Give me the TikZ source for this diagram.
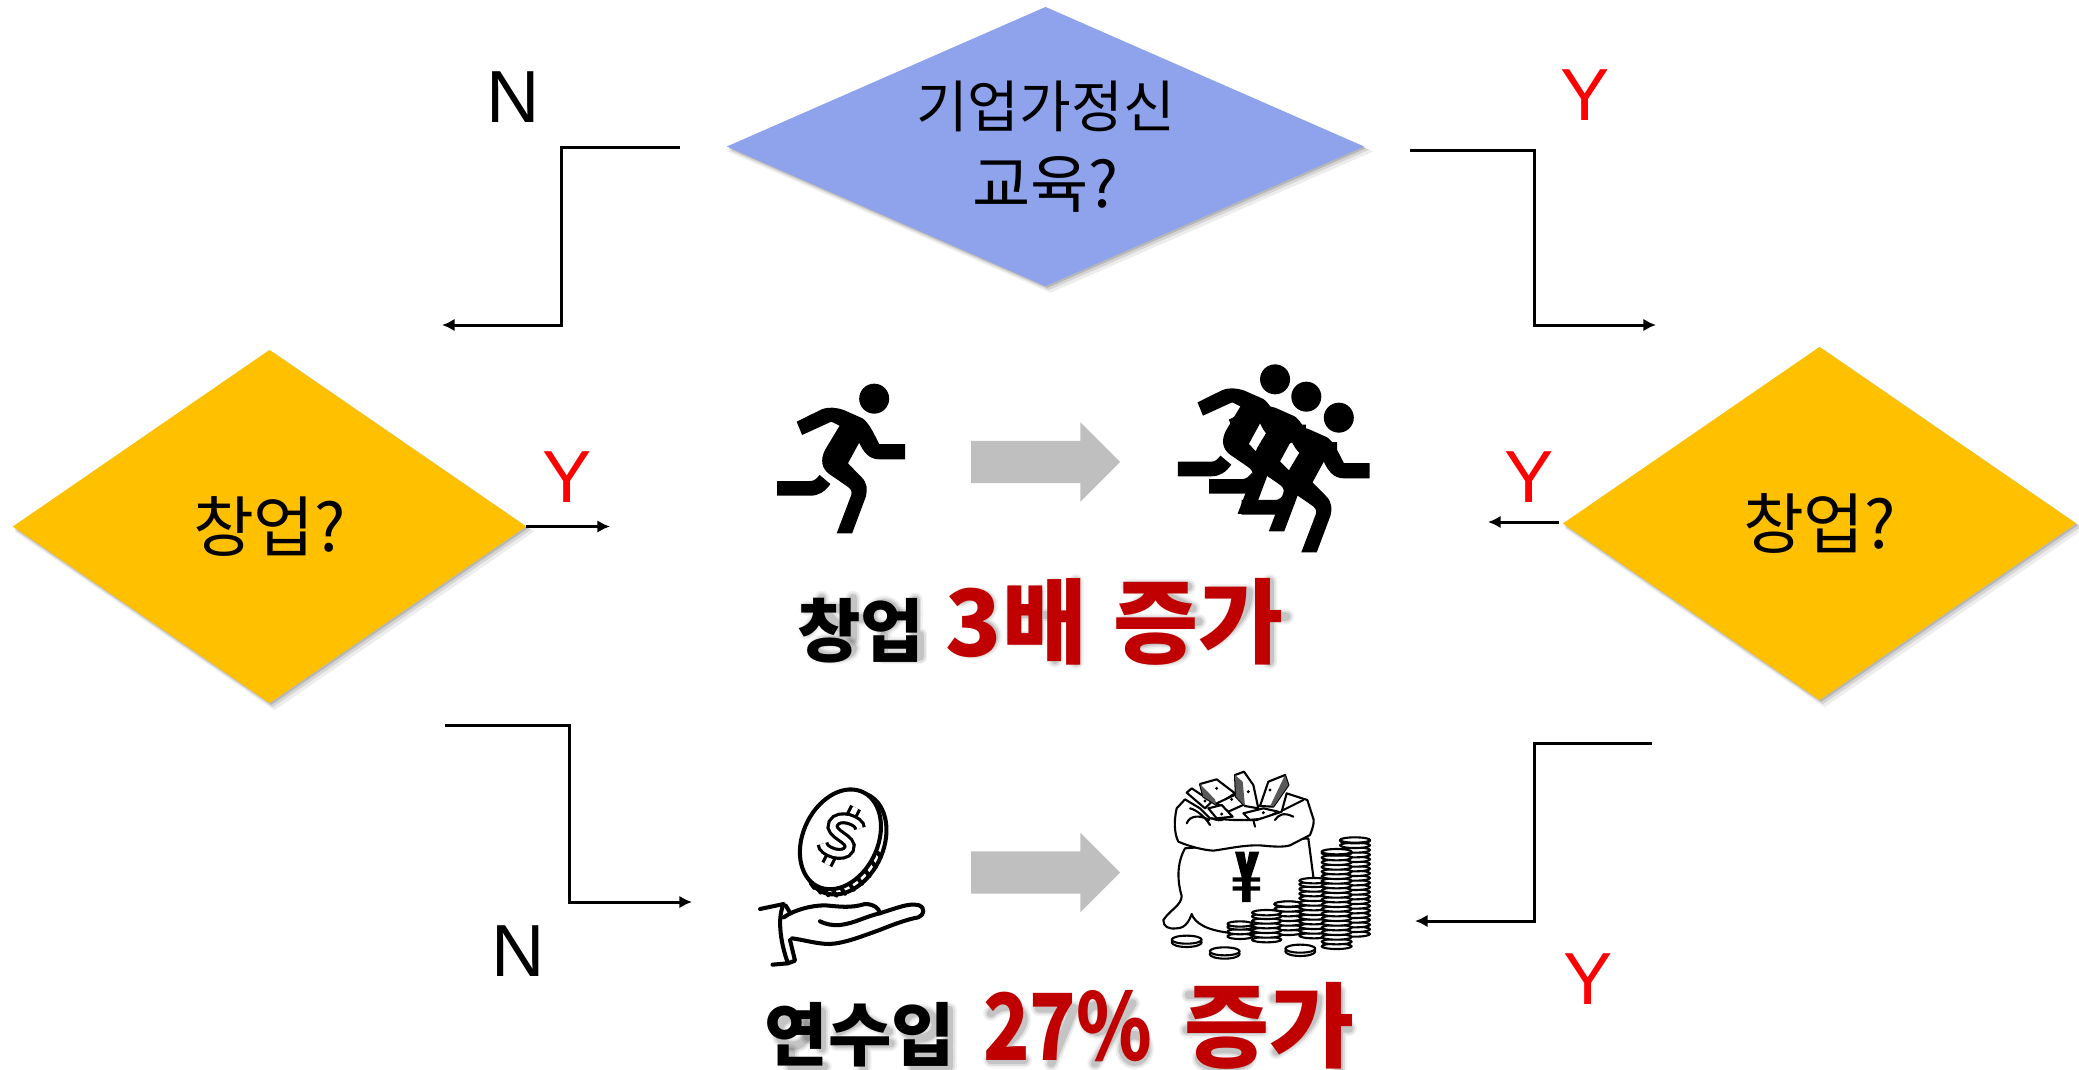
\documentclass[tikz,border=0pt]{standalone}
\usepackage{fontspec}
\usepackage{graphicx}
\setmainfont{Noto Sans CJK KR}
\newfontfamily\latf{Liberation Sans}
\usetikzlibrary{shapes.geometric,shapes.arrows,arrows.meta,shadows}
\definecolor{periw}{RGB}{143,163,236}
\definecolor{amber}{RGB}{255,192,0}
\definecolor{arrowgrey}{RGB}{191,191,191}
\definecolor{deepred}{RGB}{192,0,0}
\newcommand{\pxfont}[1]{\fontsize{#1}{#1}\selectfont}
% hand-drawn soft shadow strokes behind the two captions
\newcommand{\shadowstrokesA}{
  \draw (160,700) -- (160,715) (125,730) -- (205,730) (165,735) -- (125,800) (165,735) -- (205,790)
    (235,700) -- (235,820) (235,760) -- (260,760);
  \draw (190,850) ellipse [x radius=45,y radius=25];
  \draw (310,750) ellipse [x radius=30,y radius=35];
  \draw (385,705) -- (385,800) (345,750) -- (385,750)
    (310,810) -- (310,875) -- (395,875) -- (395,810) (310,840) -- (395,840);
  \draw (495,705) .. controls (530,680) and (570,690) .. (565,725) .. controls (560,755) and (540,765) .. (525,770)
    .. controls (560,775) and (580,795) .. (572,825) .. controls (565,860) and (520,870) .. (490,850);
  \draw (620,680) -- (620,820) -- (680,820) -- (680,680) (620,745) -- (680,745)
    (720,660) -- (720,885) (770,650) -- (770,890) (680,750) -- (720,750);
  \draw (895,665) -- (1040,665) (965,680) -- (900,735) (965,680) -- (1050,730) (885,770) -- (1065,770);
  \draw (970,855) ellipse [x radius=60,y radius=28];
  \draw (1100,680) -- (1185,680) .. controls (1185,740) and (1150,790) .. (1100,830)
    (1235,650) -- (1235,890) (1235,755) -- (1275,755);
}
\newcommand{\shadowstrokesB}{
  \draw (115,800) ellipse [x radius=35,y radius=42];
  \draw (185,740) -- (185,850) (150,775) -- (185,775) (150,815) -- (185,815) (110,860) -- (110,905) -- (190,905);
  \draw (285,740) -- (285,760) -- (225,800) (285,760) -- (345,800) (220,835) -- (350,835) (285,835) -- (285,912);
  \draw (420,780) ellipse [x radius=38,y radius=40];
  \draw (490,735) -- (490,840) (405,850) -- (405,905) -- (490,905) -- (490,850) (405,878) -- (490,878);
  \draw (590,745) .. controls (620,710) and (670,720) .. (668,765) .. controls (665,810) and (610,850) .. (590,885) -- (670,885);
  \draw (705,730) -- (790,730) -- (735,895);
  \draw (845,760) ellipse [x radius=28,y radius=40];
  \draw (935,850) ellipse [x radius=28,y radius=40];
  \draw (930,715) -- (840,895);
  \draw (1065,690) -- (1220,690) (1145,705) -- (1075,755) (1145,705) -- (1225,755) (1060,795) -- (1240,795);
  \draw (1150,880) ellipse [x radius=60,y radius=28];
  \draw (1270,700) -- (1375,700) .. controls (1375,770) and (1335,820) .. (1275,860)
    (1425,680) -- (1425,918) (1425,790) -- (1450,790);
}
\tikzset{
  softshadow/.style={
    general shadow={fill=black,opacity=.07,shadow xshift=1.4pt,shadow yshift=-1.4pt,shadow scale=1.012},
    general shadow={fill=black,opacity=.10,shadow xshift=.9pt,shadow yshift=-.9pt,shadow scale=1.006},
    general shadow={fill=black,opacity=.14,shadow xshift=.5pt,shadow yshift=-.5pt}},
  decision/.style={shape=diamond,inner sep=0pt,outer sep=0pt,softshadow,align=center},
  conn/.style={line width=.85pt,-{Latex[length=3.6pt,width=3.6pt]}},
  yes/.style={font=\latf\pxfont{21},text=red},
  no/.style={font=\latf\pxfont{21},text=black},
  bigarrow/.style={shape=single arrow,fill=arrowgrey,draw=none,inner sep=0pt,outer sep=0pt,anchor=tail,
    minimum height=1.49cm,single arrow head extend=.185cm,single arrow head indent=0pt},
  ink/.style={line width=1.15pt,line join=round,line cap=round,draw=black},
  thin ink/.style={line width=.6pt,line join=round,line cap=round,draw=black},
  glow outer/.style={line width=4.4pt,draw=black,opacity=.05,line cap=round,line join=round},
  glow mid/.style={line width=3.4pt,draw=black,opacity=.08,line cap=round,line join=round},
  glow inner/.style={line width=2.4pt,draw=black,opacity=.12,line cap=round,line join=round},
  runner/.pic={
    \fill (298,116) ellipse [x radius=36,y radius=45];
    \fill (112,185) -- (172,148) .. controls (190,140) and (205,142) .. (225,150) -- (270,175)
      .. controls (285,188) and (295,215) .. (310,252) -- (372,252) -- (372,298) -- (310,298)
      .. controls (285,298) and (272,275) .. (262,248) -- (235,310) -- (268,352)
      .. controls (282,370) and (282,390) .. (278,410) -- (245,520) -- (208,520) -- (243,405)
      .. controls (246,392) and (240,385) .. (232,378) -- (190,342)
      .. controls (172,325) and (168,300) .. (180,270) -- (215,197) -- (195,185) -- (125,225) -- cycle;
    \fill (65,363) -- (145,363) .. controls (155,363) and (160,355) .. (167,345) -- (193,372)
      .. controls (180,395) and (165,407) .. (145,407) -- (65,407) -- cycle;
  },
  billnote/.style={thin ink,fill=white},
}
\begin{document}
\begin{tikzpicture}[x=0.01cm,y=-0.01cm]
\useasboundingbox (0,0) rectangle (2079,1069);

% decisions
\node[decision,fill=periw,minimum width=6.37cm,minimum height=2.79cm,shape aspect=2.28] (edu) at (1045.5,146.5)
  {\pxfont{16}기업가정신\\[6pt]\pxfont{18}교육?};
\node[decision,fill=amber,minimum width=5.13cm,minimum height=3.53cm,shape aspect=1.45] (startL) at (269.5,526.5) {\raisebox{-3pt}{\pxfont{18.8}창업?}};
\node[decision,fill=amber,minimum width=5.13cm,minimum height=3.53cm,shape aspect=1.45] (startR) at (1819.5,523.5) {\raisebox{-3pt}{\pxfont{18.8}창업?}};

% connector ends
\coordinate (a0) at (680,147); \coordinate (a1) at (442,325);
\coordinate (b0) at (1410,150); \coordinate (b1) at (1656,325);
\coordinate (c1) at (610,526.5);
\coordinate (d0) at (1559,522); \coordinate (d1) at (1488,522);
\coordinate (e0) at (445,725); \coordinate (e1) at (692,902);
\coordinate (f0) at (1652,743); \coordinate (f1) at (1415,921);

\draw[conn] (a0) -- (561,147) -- (561,325) -- (a1);
\draw[conn] (b0) -- (1534,150) -- (1534,325) -- (b1);
\draw[conn] (startL.east) -- (c1);
\draw[conn] (d0) -- (d1);
\draw[conn] (e0) -- (569,725) -- (569,902) -- (e1);
\draw[conn] (f0) -- (1534,743) -- (1534,921) -- (f1);

% branch labels
\node[no]  (n1) at (513,97) {N};
\node[yes] (y1) at (1585,95) {Y};
\node[yes] (y2) at (567,477) {Y};
\node[yes] (y3) at (1529,477) {Y};
\node[no]  (n2) at (518,951) {N};
\node[yes] (y4) at (1588,979) {Y};

% grey arrows
\node[bigarrow] (g1) at (971,462) {\rule{0pt}{.41cm}};
\node[bigarrow] (g2) at (971,872.5) {\rule{0pt}{.41cm}};

% runners
\begin{scope}[shift={(750,360)},xscale=.4167,yscale=.3333]
  \pic[transform shape] at (0,0) {runner};
  \pic[transform shape] at (962,-58) {runner};
  \pic[transform shape] at (1037,-6) {runner};
  \pic[transform shape] at (1115,57) {runner};
\end{scope}

% coin and hand
\begin{scope}[shift={(740,760)},xscale=.4167,yscale=.3333]
  \draw[ink,fill=white] (252,250) ellipse [x radius=94,y radius=157,rotate=-15];
  \begin{scope}[shift={(243,240)},rotate=-15]
    \foreach \t in {5,17,...,113} {
      \draw[ink] ({94*cos(\t)},{157*sin(\t)}) -- +(11,11);
    }
  \end{scope}
  \draw[ink,fill=white] (241,238) ellipse [x radius=92,y radius=153,rotate=-15];
  \begin{scope}[shift={(243,228)},rotate=-22]
    \draw[line width=.9pt,double=white,double distance=1.6pt,line cap=butt]
      (0,-92) -- (0,-55) (0,55) -- (0,92);
    \draw[line width=.9pt,double=white,double distance=1.6pt,line cap=butt]
      (33,-38) .. controls (25,-60) and (-32,-62) .. (-32,-28)
      .. controls (-32,8) and (32,-5) .. (32,30)
      .. controls (32,62) and (-25,60) .. (-33,38);
  \end{scope}
  \draw[ink] (48,447) -- (105,432) .. controls (90,470) and (95,540) .. (115,610) -- (78,614);
  \draw[ink] (110,437) -- (120,458) (120,540) -- (132,602) -- (115,610);
  \draw[ink] (105,472) .. controls (130,450) and (170,436) .. (205,436)
     .. controls (240,440) and (265,445) .. (300,432)
     .. controls (320,432) and (335,445) .. (335,460)
     -- (370,446) .. controls (395,436) and (415,430) .. (430,436)
     .. controls (445,445) and (442,465) .. (428,472)
     .. controls (400,478) and (365,495) .. (335,510)
     .. controls (290,530) and (250,550) .. (215,552)
     .. controls (185,552) and (155,540) .. (125,535);
  \draw[ink] (335,460) .. controls (300,470) and (275,490) .. (240,495)
     .. controls (220,497) and (205,492) .. (192,484);
\end{scope}

% money bag
\begin{scope}[shift={(1150,770)},scale=.3333]
  \draw[billnote] (110,68) -- (125,55) -- (185,95) -- (165,115) -- cycle;
  \fill (165,93) circle (5);
  \draw[billnote] (150,42) -- (200,28) -- (255,70) -- (200,105) -- (160,80) -- cycle;
  \fill[black!65] (150,42) -- (160,80) -- (200,105) -- (195,88) -- cycle;
  \fill (200,55) circle (5);
  \draw[billnote] (355,35) -- (405,15) -- (415,45) -- (370,110) -- (330,108) -- cycle;
  \fill[black!65] (405,15) -- (415,45) -- (370,110) -- (362,105) -- cycle;
  \fill (360,60) circle (5);
  \draw[billnote] (200,100) -- (260,72) -- (290,100) -- (235,125) -- cycle;
  \fill (245,88) circle (5);
  \draw[billnote] (255,15) -- (282,5) -- (310,45) -- (325,115) -- (285,108) -- (258,80) -- cycle;
  \fill[black!65] (255,15) -- (258,80) -- (285,108) -- (278,35) -- cycle;
  \fill (295,65) circle (5);
  \draw[billnote] (175,115) -- (215,105) -- (248,140) -- (200,145) -- cycle;
  \fill (215,132) circle (5);
  \draw[billnote] (280,130) -- (340,115) -- (385,125) -- (345,145) -- (300,150) -- cycle;
  \fill (340,128) circle (5);
  % sack
  \draw[thin ink,fill=white] (105,235) .. controls (85,270) and (78,320) .. (95,378)
     .. controls (95,405) and (60,420) .. (40,450)
     .. controls (40,470) and (55,478) .. (80,475)
     .. controls (110,475) and (120,445) .. (125,432)
     .. controls (135,460) and (170,480) .. (235,488)
     -- (490,488) -- (490,320) -- (475,205) -- cycle;
  \draw[thin ink,fill=white] (105,88) -- (80,115) .. controls (72,150) and (72,190) .. (85,215)
     .. controls (120,230) and (160,240) .. (190,242)
     .. controls (240,235) and (280,225) .. (330,226)
     .. controls (370,230) and (400,232) .. (420,226)
     -- (480,195) .. controls (490,170) and (495,150) .. (488,140) -- (472,90) -- (410,70)
     -- (395,125) -- (320,150) -- (250,150) -- (180,145) -- (150,115) -- cycle;
  \draw[thin ink] (120,115) .. controls (140,120) and (165,140) .. (180,165)
     (110,160) .. controls (120,135) and (150,135) .. (178,150)
     (185,145) .. controls (200,150) and (210,155) .. (225,145)
     (375,150) .. controls (385,135) and (400,125) .. (430,140)
     (400,120) .. controls (420,110) and (440,100) .. (460,90)
     (310,150) -- (315,170);
  % yen
  \fill (255,245) -- (283,245) -- (290,285) -- (298,245) -- (328,245) -- (303,322)
     -- (330,322) -- (330,335) -- (302,335) -- (302,349) -- (330,349) -- (330,362) -- (302,362)
     -- (302,396) -- (276,396) -- (276,362) -- (248,362) -- (248,349) -- (276,349) -- (276,335)
     -- (248,335) -- (248,322) -- (275,322) -- cycle;
  % coin stacks
  \foreach \cx/\ytop/\ybot/\rx in {615/210/500/45,415/402/495/42,492/332/505/44,560/245/537/45,350/428/517/44,270/462/507/38}{
    \pgfmathsetmacro{\yy}{\ybot-8}
    \pgfmathsetmacro{\yz}{\ybot-22}
    \foreach \y in {\yy,\yz,...,\ytop} {
      \draw[thin ink,fill=white] (\cx,\y) ellipse [x radius=\rx,y radius=8];
    }
    \draw[thin ink,fill=white] (\cx,\ytop) ellipse [x radius=\rx,y radius=8];
  }
  % loose coins
  \foreach \cx/\cy in {110/513,224/548,451/540}{
    \draw[thin ink,fill=white] (\cx,\cy+4) ellipse [x radius=45,y radius=14];
    \draw[thin ink,fill=white] (\cx,\cy-4) ellipse [x radius=45,y radius=12];
  }
\end{scope}

% caption shadows
\begin{scope}[shift={(755,365)},xscale=.4167,yscale=.3333]
  \begin{scope}[every path/.style={glow outer}]\shadowstrokesA\end{scope}
  \begin{scope}[every path/.style={glow mid}]\shadowstrokesA\end{scope}
  \begin{scope}[every path/.style={glow inner}]\shadowstrokesA\end{scope}
\end{scope}
\begin{scope}[shift={(745,765)},xscale=.4167,yscale=.3333]
  \begin{scope}[every path/.style={glow outer}]\shadowstrokesB\end{scope}
  \begin{scope}[every path/.style={glow mid}]\shadowstrokesB\end{scope}
  \begin{scope}[every path/.style={glow inner}]\shadowstrokesB\end{scope}
\end{scope}

% captions
\node[inner sep=0pt] (cap1) at (1040.5,622) {\bfseries\pxfont{19.6}창업 \hspace{1.8pt}{\color{deepred}\pxfont{26.3}3배\hspace{1.5pt} 증가}};
\node[inner sep=0pt] (cap2) at (1059.5,1026) {\bfseries\pxfont{19.6}연수입 \hspace{3.5pt}{\color{deepred}\pxfont{26.3}\scalebox{.83}[1]{27\%}\hspace{3pt} 증가}};
\end{tikzpicture}
\end{document}
